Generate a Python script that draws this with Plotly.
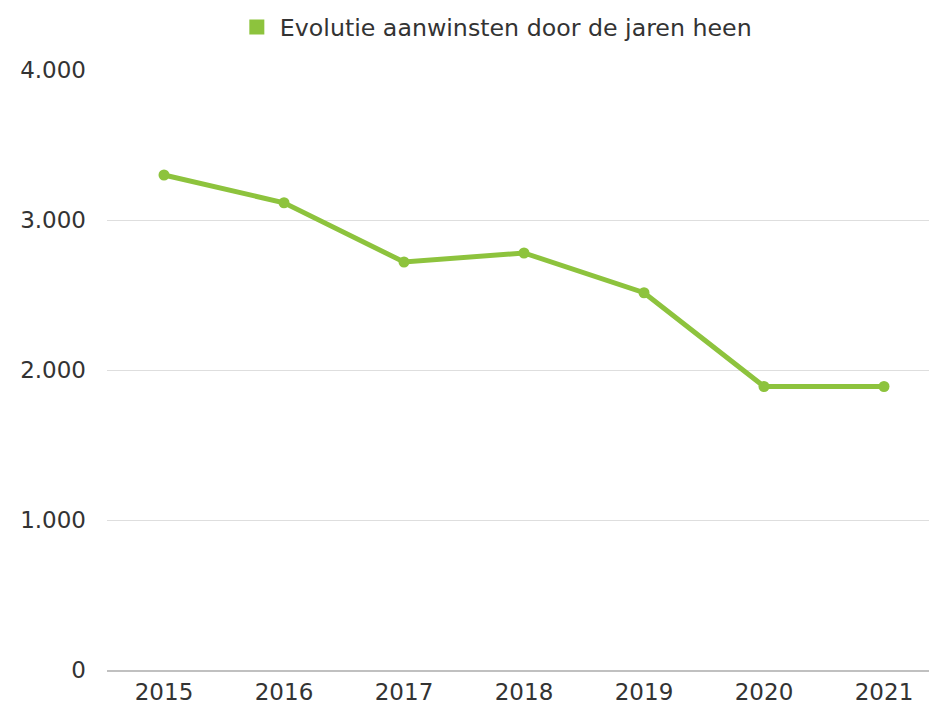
import plotly.graph_objects as go

years = ["2015", "2016", "2017", "2018", "2019", "2020", "2021"]
values = [3300, 3115, 2720, 2780, 2515, 1890, 1890]
series_name = "Evolutie aanwinsten door de jaren heen"
y_ticks = [0, 1000, 2000, 3000, 4000]
y_tick_labels = ["0", "1.000", "2.000", "3.000", "4.000"]

green = "#8dc33d"

fig = go.Figure()
fig.add_trace(go.Scatter(
    x=years, y=values, mode="lines+markers",
    line=dict(color=green, width=5),
    marker=dict(color=green, size=11),
    showlegend=False, name=series_name,
))
fig.add_trace(go.Scatter(
    x=[None], y=[None], mode="markers",
    marker=dict(color=green, size=15, symbol="square"),
    name=series_name, showlegend=True,
))

fig.update_layout(
    width=929, height=699,
    margin=dict(l=99, r=2, t=62, b=37),
    paper_bgcolor="white", plot_bgcolor="white",
    font=dict(family="DejaVu Sans", size=22, color="#333333"),
    legend=dict(orientation="h", x=0.469, xanchor="center",
                y=1 - 19 / 699, yanchor="middle", yref="container",
                font=dict(size=23.7, color="#333333"),
                itemwidth=36),
    xaxis=dict(type="category", range=[-0.475, 6.425], showgrid=False,
               showline=True, linecolor="#c0c0c0", linewidth=2,
               ticks="", tickfont=dict(size=23), fixedrange=True),
    yaxis=dict(range=[0, 4000], tickvals=y_ticks, ticktext=y_tick_labels,
               showgrid=True, gridcolor="#dedede", gridwidth=1,
               zeroline=False, showline=False, ticks="", ticklabelstandoff=20,
               tickfont=dict(size=23)),
)
fig.write_html("out.html")
